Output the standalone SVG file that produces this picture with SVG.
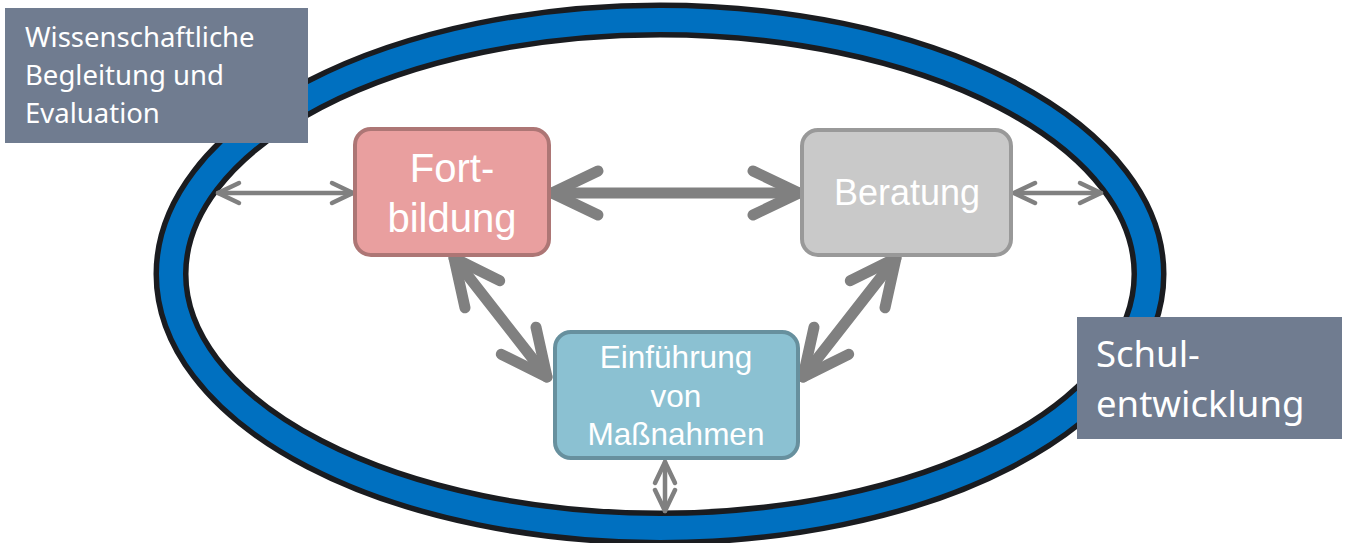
<svg xmlns="http://www.w3.org/2000/svg" width="1351" height="543" viewBox="0 0 1351 543">
<style>
.lbl{fill:#707C90}
.lt{font-family:"Noto Sans","Open Sans",sans-serif;fill:#ffffff}
.bt{font-family:"Liberation Sans",Arial,sans-serif;fill:#ffffff;text-anchor:middle}
.big{stroke:#808080;stroke-width:11;fill:none;stroke-linecap:round;stroke-linejoin:round}
.small{stroke:#808080;stroke-width:4.5;fill:none;stroke-linecap:round;stroke-linejoin:round}
</style>
<defs>
<marker id="hb" markerUnits="userSpaceOnUse" orient="auto-start-reverse" markerWidth="60" markerHeight="60" refX="0" refY="0" viewBox="-55 -30 60 60" overflow="visible">
<path d="M-46,-22 L0,0 L-46,22" fill="none" stroke="#808080" stroke-width="11" stroke-linecap="round" stroke-linejoin="round"/>
</marker>
<marker id="hs" markerUnits="userSpaceOnUse" orient="auto-start-reverse" markerWidth="30" markerHeight="30" refX="0" refY="0" viewBox="-25 -15 30 30" overflow="visible">
<path d="M-21,-10 L0,0 L-21,10" fill="none" stroke="#808080" stroke-width="4.5" stroke-linecap="round" stroke-linejoin="round"/>
</marker>
</defs>
<rect width="1351" height="543" fill="#ffffff"/>
<g id="ring">
<ellipse cx="660" cy="274" rx="489" ry="254" fill="none" stroke="#1a1c20" stroke-width="35"/>
<ellipse cx="660" cy="274" rx="489" ry="254" fill="none" stroke="#0070c0" stroke-width="24"/>
</g>
<g id="connectors">
<line class="small" x1="218" y1="193" x2="353" y2="193" marker-start="url(#hs)" marker-end="url(#hs)"/>
<line class="small" x1="1014" y1="193" x2="1101" y2="193" marker-start="url(#hs)" marker-end="url(#hs)"/>
<line class="big" x1="552" y1="193" x2="799" y2="193" marker-start="url(#hb)" marker-end="url(#hb)"/>
<line class="big" x1="454" y1="258" x2="547" y2="377" marker-start="url(#hb)" marker-end="url(#hb)"/>
<line class="big" x1="896" y1="258" x2="803" y2="377" marker-start="url(#hb)" marker-end="url(#hb)"/>
<line class="small" x1="665" y1="462" x2="665" y2="511" marker-start="url(#hs)" marker-end="url(#hs)"/>
</g>
<g id="fortbildung">
<rect x="355" y="129" width="194" height="126" rx="16" fill="#e99f9f" stroke="#ad7675" stroke-width="4"/>
<text class="bt" x="452" y="182" font-size="40">Fort-</text>
<text class="bt" x="452" y="232" font-size="40">bildung</text>
</g>
<g id="beratung">
<rect x="802" y="130" width="209" height="125" rx="16" fill="#c9c9c9" stroke="#999999" stroke-width="4"/>
<text class="bt" x="907" y="205" font-size="36">Beratung</text>
</g>
<g id="einfuehrung">
<rect x="555" y="332" width="243" height="126" rx="16" fill="#8bc1d2" stroke="#67909e" stroke-width="4"/>
<text class="bt" x="676" y="368" font-size="31.5">Einführung</text>
<text class="bt" x="676" y="407" font-size="31.5">von</text>
<text class="bt" x="676" y="445" font-size="31.5">Maßnahmen</text>
</g>
<g id="wissenschaft">
<rect class="lbl" x="5" y="8" width="303" height="135"/>
<text class="lt" x="25" y="47" font-size="27.5">Wissenschaftliche</text>
<text class="lt" x="25" y="85" font-size="27.5">Begleitung und</text>
<text class="lt" x="25" y="123" font-size="27.5">Evaluation</text>
</g>
<g id="schulentwicklung">
<rect class="lbl" x="1077" y="317" width="265" height="122"/>
<text class="lt" x="1096" y="367" font-size="36.5">Schul-</text>
<text class="lt" x="1096" y="417" font-size="36.5">entwicklung</text>
</g>
</svg>
